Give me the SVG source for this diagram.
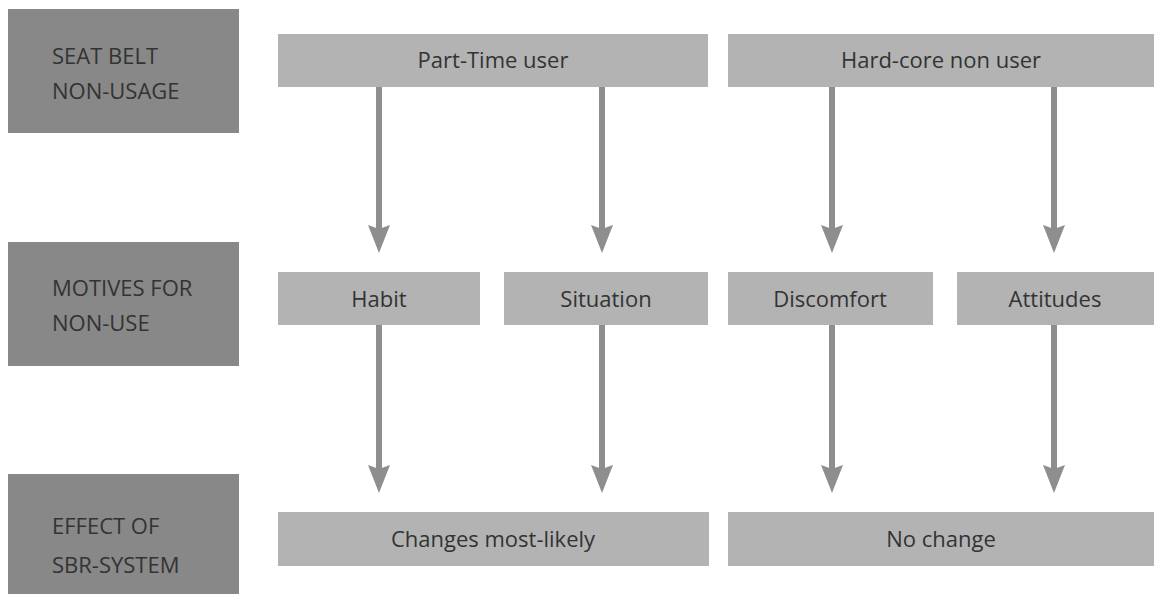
<svg xmlns="http://www.w3.org/2000/svg" width="1154" height="594" viewBox="0 0 1154 594">
  <defs>
    <style>
      .dark { fill: #888888; }
      .light { fill: #b3b3b3; }
      .lbl { font-family: "Open Sans", "Noto Sans", "Liberation Sans", sans-serif; font-size: 22px; fill: #333333; }
      .ctr { text-anchor: middle; }
      .arrow { stroke: #8e8e8e; stroke-width: 6; fill: none; marker-end: url(#head); }
    </style>
    <marker id="head" markerUnits="userSpaceOnUse" markerWidth="30" markerHeight="24" viewBox="0 -12 30 24" refX="6" refY="0" orient="auto">
      <path d="M0,-11 L28,0 L0,11 L4,0 Z" fill="#8e8e8e"/>
    </marker>
  </defs>
  <rect width="1154" height="594" fill="#ffffff"/>

  <g id="row-seatbelt">
    <rect class="dark" x="8" y="9" width="231" height="124"/>
    <text class="lbl" x="52" y="64">SEAT BELT</text>
    <text class="lbl" x="52" y="99">NON-USAGE</text>
  </g>
  <g id="row-motives">
    <rect class="dark" x="8" y="242" width="231" height="124"/>
    <text class="lbl" x="52" y="296">MOTIVES FOR</text>
    <text class="lbl" x="52" y="331">NON-USE</text>
  </g>
  <g id="row-effect">
    <rect class="dark" x="8" y="474" width="231" height="120"/>
    <text class="lbl" x="52" y="534">EFFECT OF</text>
    <text class="lbl" x="52" y="573">SBR-SYSTEM</text>
  </g>

  <g id="part-time">
    <rect class="light" x="278" y="34" width="430" height="53"/>
    <text class="lbl ctr" x="493" y="68">Part-Time user</text>
  </g>
  <g id="hard-core">
    <rect class="light" x="728" y="34" width="426" height="53"/>
    <text class="lbl ctr" x="941" y="68">Hard-core non user</text>
  </g>

  <g id="habit">
    <rect class="light" x="278" y="272" width="202" height="53"/>
    <text class="lbl ctr" x="379" y="307">Habit</text>
  </g>
  <g id="situation">
    <rect class="light" x="504" y="272" width="204" height="53"/>
    <text class="lbl ctr" x="606" y="307">Situation</text>
  </g>
  <g id="discomfort">
    <rect class="light" x="728" y="272" width="205" height="53"/>
    <text class="lbl ctr" x="830" y="307">Discomfort</text>
  </g>
  <g id="attitudes">
    <rect class="light" x="957" y="272" width="197" height="53"/>
    <text class="lbl ctr" x="1055" y="307">Attitudes</text>
  </g>

  <g id="changes">
    <rect class="light" x="278" y="512" width="431" height="54"/>
    <text class="lbl ctr" x="493" y="547">Changes most-likely</text>
  </g>
  <g id="no-change">
    <rect class="light" x="728" y="512" width="426" height="54"/>
    <text class="lbl ctr" x="941" y="547">No change</text>
  </g>

  <g id="connectors">
    <line class="arrow" x1="379" y1="87" x2="379" y2="231"/>
    <line class="arrow" x1="602" y1="87" x2="602" y2="231"/>
    <line class="arrow" x1="832" y1="87" x2="832" y2="231"/>
    <line class="arrow" x1="1054" y1="87" x2="1054" y2="231"/>
    <line class="arrow" x1="379" y1="325" x2="379" y2="471"/>
    <line class="arrow" x1="602" y1="325" x2="602" y2="471"/>
    <line class="arrow" x1="832" y1="325" x2="832" y2="471"/>
    <line class="arrow" x1="1054" y1="325" x2="1054" y2="471"/>
  </g>
</svg>
